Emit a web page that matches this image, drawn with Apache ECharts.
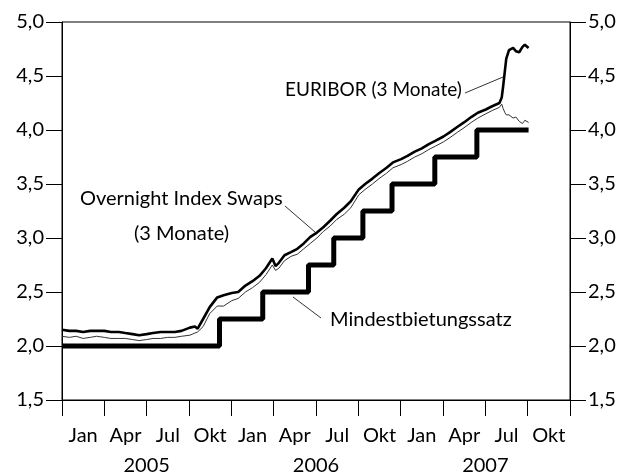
<!DOCTYPE html>
<html>
<head>
<meta charset="utf-8">
<script src="https://cdn.jsdelivr.net/npm/echarts@6/dist/echarts.min.js"></script>
<style>
  html, body { margin: 0; padding: 0; background: #fff; }
  #chart { width: 626px; height: 476px; }
</style>
</head>
<body>
<div id="chart"></div>
<script>
// quarter labels and years along the bottom
const quarterLabels = ["Jan", "Apr", "Jul", "Okt", "Jan", "Apr", "Jul", "Okt", "Jan", "Apr", "Jul", "Okt"];
const yearLabels = ["2005", "2006", "2007"];

// EURIBOR and OIS (semi-monthly, denser in Aug/Sep 2007)
const rateDates = [
  "2005-01-01", "2005-01-17", "2005-02-01", "2005-02-15", "2005-03-01", "2005-03-15",
  "2005-04-01", "2005-04-15", "2005-05-02", "2005-05-16", "2005-06-01", "2005-06-15",
  "2005-07-01", "2005-07-15", "2005-08-01", "2005-08-16", "2005-09-01", "2005-09-15",
  "2005-10-03", "2005-10-14", "2005-10-20", "2005-11-01", "2005-11-15", "2005-12-01",
  "2005-12-15", "2006-01-02", "2006-01-16", "2006-02-01", "2006-02-15", "2006-03-01",
  "2006-03-15", "2006-03-29", "2006-04-05", "2006-04-12", "2006-04-24", "2006-05-08",
  "2006-05-22", "2006-06-05", "2006-06-19", "2006-07-03", "2006-07-17", "2006-08-01",
  "2006-08-15", "2006-09-01", "2006-09-15", "2006-10-02", "2006-10-16", "2006-11-01",
  "2006-11-15", "2006-12-01", "2006-12-15", "2007-01-02", "2007-01-16", "2007-02-01",
  "2007-02-15", "2007-03-01", "2007-03-15", "2007-04-02", "2007-04-16", "2007-05-02",
  "2007-05-16", "2007-06-01", "2007-06-15", "2007-07-02", "2007-07-16", "2007-08-01",
  "2007-08-06", "2007-08-09", "2007-08-13", "2007-08-16", "2007-08-22", "2007-08-31",
  "2007-09-06", "2007-09-13", "2007-09-20", "2007-09-25", "2007-10-03"
];
const euribor = [
  2.15, 2.14, 2.14, 2.13, 2.14, 2.14,
  2.14, 2.13, 2.13, 2.12, 2.11, 2.10,
  2.11, 2.12, 2.13, 2.13, 2.13, 2.14,
  2.17, 2.18, 2.16, 2.25, 2.36, 2.45,
  2.47, 2.49, 2.50, 2.56, 2.60, 2.65,
  2.72, 2.81, 2.74, 2.77, 2.84, 2.87,
  2.90, 2.95, 3.01, 3.05, 3.10, 3.16,
  3.22, 3.28, 3.34, 3.45, 3.50, 3.55,
  3.60, 3.65, 3.70, 3.73, 3.76, 3.80,
  3.83, 3.87, 3.90, 3.94, 3.98, 4.03,
  4.07, 4.12, 4.16, 4.19, 4.22, 4.25,
  4.30, 4.40, 4.55, 4.66, 4.74, 4.76,
  4.73, 4.72, 4.77, 4.79, 4.76
];
const ois = [
  2.09, 2.08, 2.09, 2.07, 2.08, 2.09,
  2.08, 2.07, 2.07, 2.07, 2.06, 2.05,
  2.06, 2.07, 2.07, 2.08, 2.08, 2.09,
  2.10, 2.12, 2.13, 2.18, 2.30, 2.37,
  2.37, 2.42, 2.44, 2.50, 2.54, 2.59,
  2.66, 2.75, 2.70, 2.72, 2.79, 2.83,
  2.85, 2.90, 2.95, 3.00, 3.06, 3.11,
  3.17, 3.22, 3.28, 3.40, 3.45, 3.50,
  3.55, 3.60, 3.65, 3.68, 3.71, 3.75,
  3.78, 3.82, 3.85, 3.89, 3.93, 3.98,
  4.02, 4.07, 4.11, 4.15, 4.18, 4.21,
  4.24, 4.20, 4.16, 4.14, 4.14, 4.11,
  4.12, 4.08, 4.06, 4.09, 4.07
];

// ECB minimum bid rate, change dates
const mbrDates = [
  "2005-01-01", "2005-12-06", "2006-03-08", "2006-06-15", "2006-08-09",
  "2006-10-11", "2006-12-13", "2007-03-14", "2007-06-13", "2007-10-03"
];
const mbr = [2.00, 2.25, 2.50, 2.75, 3.00, 3.25, 3.50, 3.75, 4.00, 4.00];

// months since Jan 2005
function toMonth(d) {
  const [y, m, day] = d.split("-").map(Number);
  const dim = new Date(y, m, 0).getDate();
  return (y - 2005) * 12 + (m - 1) + (day - 1) / dim;
}
const pairs = (dates, vals) => dates.map((d, i) => [toMonth(d), vals[i]]);

const FONT = "Lato";
const FS = 20;
const fmt = v => v.toFixed(1).replace(".", ",");

const yAxisBase = {
  type: "value",
  min: 1.5,
  max: 5,
  interval: 0.5,
  axisLine: { show: true, lineStyle: { color: "#000", width: 1 } },
  axisTick: { show: true, length: 16, lineStyle: { color: "#000" } },
  axisLabel: { color: "#000", fontSize: FS, fontFamily: FONT, margin: 18, formatter: fmt },
  splitLine: { show: false }
};

const textStyle = { fontSize: FS, fontFamily: FONT, fill: "#000" };

const option = {
  animation: false,
  backgroundColor: "#fff",
  grid: {
    left: 62, right: 56, top: 22, bottom: 75,
    show: true, borderColor: "#000", borderWidth: 1
  },
  xAxis: [
    {
      type: "value",
      min: 0,
      max: 36,
      interval: 3,
      axisLine: { show: true, lineStyle: { color: "#000" } },
      axisTick: { show: true, length: 16, lineStyle: { color: "#000" } },
      axisLabel: { show: false },
      splitLine: { show: false }
    },
    {
      type: "category",
      data: quarterLabels,
      position: "bottom",
      boundaryGap: true,
      axisLine: { show: false },
      axisTick: { show: false },
      axisLabel: { interval: 0, color: "#000", fontSize: FS, fontFamily: FONT, margin: 26 }
    },
    {
      type: "category",
      data: yearLabels,
      position: "bottom",
      boundaryGap: true,
      axisLine: { show: false },
      axisTick: { show: false },
      axisLabel: { interval: 0, color: "#000", fontSize: FS, fontFamily: FONT, margin: 56 }
    }
  ],
  yAxis: [
    Object.assign({}, yAxisBase, { position: "left" }),
    Object.assign({}, yAxisBase, { position: "right" })
  ],
  series: [
    {
      name: "Mindestbietungssatz",
      type: "line",
      step: "end",
      data: pairs(mbrDates, mbr),
      showSymbol: false,
      lineStyle: { color: "#000", width: 5 }
    },
    {
      name: "Overnight Index Swaps (3 Monate)",
      type: "line",
      data: pairs(rateDates, ois),
      showSymbol: false,
      lineStyle: { color: "#333", width: 1 }
    },
    {
      name: "EURIBOR (3 Monate)",
      type: "line",
      data: pairs(rateDates, euribor),
      showSymbol: false,
      lineStyle: { color: "#000", width: 2.6 }
    }
  ],
  graphic: [
    { type: "text", left: 285, top: 80, style: Object.assign({ text: "EURIBOR (3 Monate)" }, textStyle, { fontSize: 19 }) },
    { type: "line", shape: { x1: 465, y1: 93, x2: 503, y2: 77 }, style: { stroke: "#000", lineWidth: 0.8 } },
    { type: "text", left: 80, top: 189, style: Object.assign({ text: "Overnight Index Swaps" }, textStyle) },
    { type: "text", left: 134, top: 224, style: Object.assign({ text: "(3 Monate)" }, textStyle) },
    { type: "line", shape: { x1: 285, y1: 206, x2: 315, y2: 232 }, style: { stroke: "#000", lineWidth: 0.8 } },
    { type: "text", left: 330, top: 310, style: Object.assign({ text: "Mindestbietungssatz" }, textStyle) },
    { type: "line", shape: { x1: 293, y1: 297, x2: 321, y2: 318 }, style: { stroke: "#000", lineWidth: 0.8 } }
  ]
};

const chart = echarts.init(document.getElementById("chart"), null, { renderer: "canvas" });
chart.setOption(option);
</script>
</body>
</html>
